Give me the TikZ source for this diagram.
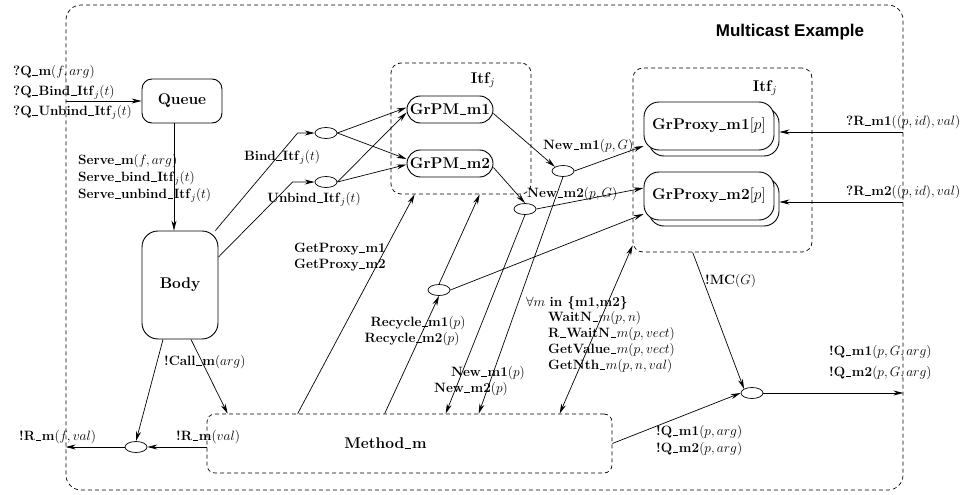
\RequirePackage{fix-cm}
\documentclass[tikz,border=0pt]{standalone}
\usepackage{fontspec}
\newfontfamily\titlefont{Liberation Sans}
\usetikzlibrary{arrows.meta, shapes.geometric, shadows}
\newcommand{\usc}{\leavevmode\kern.04em\vbox{\hrule width .42em height .45pt}\kern.04em}

\begin{document}
\begin{tikzpicture}[x=1pt, y=-1pt,
    lbl/.style={inner sep=1pt, font=\fontsize{13.5}{15.5}\selectfont, align=left},
    big/.style={font=\fontsize{15.5}{18}\selectfont\bfseries},
    solidbox/.style={draw, line width=0.9pt, rounded corners=#1, inner sep=0pt},
    dashbox/.style={draw, dash pattern=on 4pt off 3pt, line width=0.7pt, rounded corners=#1, inner sep=0pt},
    dot/.style={draw, ellipse, line width=0.7pt, minimum width=22pt, minimum height=11pt, inner sep=0pt},
    arr/.style={line width=0.7pt, -{Stealth[length=10pt,width=5pt]}},
    arrboth/.style={line width=0.7pt, {Stealth[length=10pt,width=5pt]}-{Stealth[length=10pt,width=5pt]}},
    proxy/.style={solidbox=15, big, fill=white, minimum width=130, minimum height=48,
        copy shadow={shadow xshift=5pt, shadow yshift=-6pt, draw, fill=white, line width=0.9pt}}]
    \useasboundingbox (0,0) rectangle (967,495);

    % frame and title
    \node[dashbox=15, minimum width=837, minimum height=485] (outer) at (484.5,247.5) {};
    \node[font=\titlefont\fontsize{17}{20}\selectfont\bfseries] (title) at (790,32) {Multicast Example};

    % components
    \node[solidbox=10, big, minimum width=80, minimum height=44] (queue) at (182,101) {Queue};
    \node[solidbox=16, big, minimum width=76, minimum height=108] (body) at (180,285) {Body};

    \node[dashbox=10, minimum width=140, minimum height=131] (itfa) at (461,128.5) {};
    \node[big] (itfalbl) at (483,80) {Itf$_j$};
    \node[solidbox=13.5, big, minimum width=86, minimum height=27] (grpm1) at (450,109.5) {GrPM\usc{}m1};
    \node[solidbox=13.5, big, minimum width=86, minimum height=27] (grpm2) at (450,163.5) {GrPM\usc{}m2};

    \node[dashbox=10, minimum width=179, minimum height=184] (itfb) at (722.5,160) {};
    \node[big] (itfblbl) at (765,88) {Itf$_j$};
    \node[proxy] (proxy1) at (709,126) {GrProxy\usc{}m1$[p]$};
    \node[proxy] (proxy2) at (709,196) {GrProxy\usc{}m2$[p]$};

    \node[dashbox=8, minimum width=405, minimum height=59,
          label={[big, xshift=-24pt]center:Method\usc{}m}] (method) at (409.5,443.5) {};

    % small ellipses
    \node[dot] (ebind) at (326,133) {};
    \node[dot] (eunbind) at (326,182) {};
    \node[dot] (enew1) at (563,171) {};
    \node[dot] (enew2) at (525,209) {};
    \node[dot] (erecycle) at (439,290) {};
    \node[dot] (emc) at (752,393) {};
    \node[dot] (eret) at (136,447) {};

    % queue and body
    \coordinate (qs) at ([xshift=-8pt]queue.south);
    \draw[arr] (outer.west |- queue.west) -- (queue.west);
    \draw[arr] (qs) -- (qs |- body.north);
    \draw[arr] (body.57) -- ([xshift=-17pt]ebind.west) -- (ebind.west);
    \draw[arr] (body.36) -- ([xshift=-22pt]eunbind.west) -- (eunbind.west);
    \draw[arr] (ebind.east) -- ([yshift=2pt]grpm1.west);
    \draw[arr] (ebind.east) -- ([yshift=4.5pt]grpm2.west);
    \draw[arr] (eunbind.east) -- ([yshift=-3pt]grpm1.west);
    \draw[arr] (eunbind.east) -- ([yshift=-1pt]grpm2.west);

    % new proxies
    \draw[arr] ([yshift=-4pt]grpm1.east) -- (enew1.north west);
    \draw[arr] ([yshift=-4pt]grpm2.east) -- (enew2.north);
    \draw[arr] (enew1.east) -- ([yshift=-20pt]proxy1.west);
    \draw[arr] (enew2.east) -- ([yshift=8pt]proxy2.west);
    \draw[arr] (erecycle.east) -- ([yshift=-18pt]proxy2.west);
    \draw[arr] (enew1.south) -- ([xshift=272pt]method.north west);
    \draw[arr] (enew2.south) -- ([xshift=239pt]method.north west);

    % method
    \draw[arr] ([xshift=91pt]method.north west) -- ([xshift=24pt]itfa.south west);
    \draw[arr] ([xshift=178pt]method.north west) -- (erecycle.south);
    \draw[arr] (erecycle.north) -- ([xshift=89pt]itfa.south west);
    \draw[arrboth] ([xshift=353pt]method.north west) -- ([yshift=7pt]itfb.south west);
    \draw[arr] ([xshift=60pt]itfb.south west) -- (emc.north west);
    \draw[arr] (method.east) -- (emc.west);
    \draw[arr] (emc.east) -- (emc.east -| outer.east);

    % replies
    \coordinate (p1b) at ([xshift=5pt,yshift=-6pt]proxy1.east);
    \coordinate (p2b) at ([xshift=5pt,yshift=-6pt]proxy2.east);
    \draw[arr] (outer.east |- p1b) -- (p1b);
    \draw[arr] (outer.east |- p2b) -- (p2b);
    \draw[arr] ([xshift=-17pt]body.south) -- (eret.north);
    \draw[arr] ([xshift=11pt]body.south) -- ([xshift=21pt]method.north west);
    \draw[arr] (method.west |- eret) -- (eret.east);
    \draw[arr] (eret.west) -- (eret.west -| outer.west);

    % labels
    \node[lbl, anchor=west] (qlbl) at (12,92) {\textbf{?Q\usc{}m}$(f,arg)$\\[4.5pt]\textbf{?Q\usc{}Bind\usc{}Itf}$_j(t)$\\[4.5pt]\textbf{?Q\usc{}Unbind\usc{}Itf}$_j(t)$};
    \node[lbl, anchor=west] (servelbl) at (77,178) {\textbf{Serve\usc{}m}$(f,arg)$\\[1.5pt]\textbf{Serve\usc{}bind\usc{}Itf}$_j(t)$\\[1.5pt]\textbf{Serve\usc{}unbind\usc{}Itf}$_j(t)$};
    \node[lbl] (bindlbl) at (282,157) {\textbf{Bind\usc{}Itf}$_j(t)$};
    \node[lbl] (unbindlbl) at (314,199) {\textbf{Unbind\usc{}Itf}$_j(t)$};
    \node[lbl, anchor=west] (getlbl) at (293,257) {\textbf{GetProxy\usc{}m1}\\\textbf{GetProxy\usc{}m2}};
    \node[lbl] (rec1lbl) at (418,323) {\textbf{Recycle\usc{}m1}$(p)$};
    \node[lbl] (rec2lbl) at (412,339) {\textbf{Recycle\usc{}m2}$(p)$};
    \node[lbl] (new1lbl) at (488,373) {\textbf{New\usc{}m1}$(p)$};
    \node[lbl] (new2lbl) at (471,389) {\textbf{New\usc{}m2}$(p)$};
    \node[lbl, anchor=west] (new1glbl) at (542,146) {\textbf{New\usc{}m1}$(p,G)$};
    \node[lbl, anchor=west] (new2glbl) at (526,194) {\textbf{New\usc{}m2}$(p,G)$};
    \node[lbl, anchor=west] (alllbl) at (525,303) {$\forall m$ \textbf{in \{m1,m2\}}};
    \node[lbl, anchor=west] (waitlbl) at (547,342) {\textbf{WaitN\usc}$m(p,n)$\\[0.5pt]\textbf{R\usc{}WaitN\usc}$m(p,vect)$\\[0.5pt]\textbf{GetValue\usc}$m(p,vect)$\\[0.5pt]\textbf{GetNth\usc}$m(p,n,val)$};
    \node[lbl, anchor=west] (mclbl) at (704,281) {\textbf{!MC}$(G)$};
    \node[lbl, anchor=west] (r1lbl) at (845,122) {\textbf{?R\usc{}m1}$((p,id),val)$};
    \node[lbl, anchor=west] (r2lbl) at (845,192) {\textbf{?R\usc{}m2}$((p,id),val)$};
    \node[lbl, anchor=west] (q1glbl) at (828,352) {\textbf{!Q\usc{}m1}$(p,G,arg)$};
    \node[lbl, anchor=west] (q2glbl) at (828,373) {\textbf{!Q\usc{}m2}$(p,G,arg)$};
    \node[lbl, anchor=west] (qmlbl) at (655,440.5) {\textbf{!Q\usc{}m1}$(p,arg)$\\[1.5pt]\textbf{!Q\usc{}m2}$(p,arg)$};
    \node[lbl, anchor=west] (calllbl) at (163,362) {\textbf{!Call\usc{}m}$(arg)$};
    \node[lbl, anchor=west] (rvallbl) at (175,437) {\textbf{!R\usc{}m}$(val)$};
    \node[lbl, anchor=west] (rflbl) at (18,437) {\textbf{!R\usc{}m}$(f,val)$};
\end{tikzpicture}
\end{document}
